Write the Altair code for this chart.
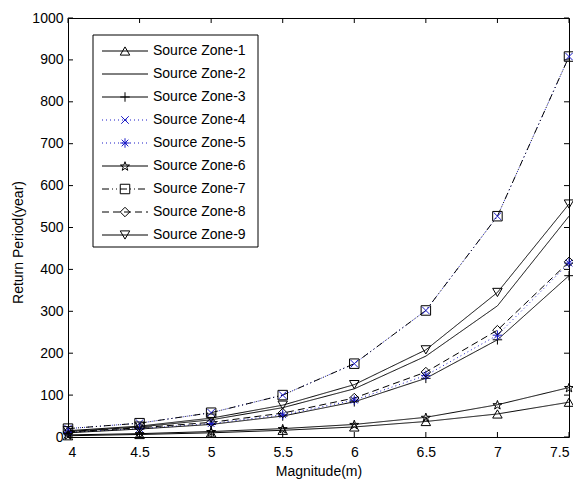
import math
import altair as alt
import pandas as pd

# ---- data ----
magnitude = [4, 4.5, 5, 5.5, 6, 6.5, 7, 7.5]
series_names = [f"Source Zone-{i}" for i in range(1, 10)]
zone1 = [3, 6, 10, 16, 24, 37, 55, 83]
zone2 = [13, 24, 41, 70, 115, 193, 313, 527]
zone3 = [10, 19, 30, 50, 84, 140, 232, 385]
zone4 = [20, 33, 58, 100, 175, 302, 527, 908]
zone5 = [11, 20, 32, 53, 88, 147, 243, 415]
zone6 = [5, 8, 13, 20, 30, 47, 77, 118]
zone7 = [20, 33, 58, 100, 175, 302, 527, 908]
zone8 = [12, 22, 35, 57, 93, 155, 255, 418]
zone9 = [15, 26, 45, 76, 125, 208, 345, 556]
all_values = [zone1, zone2, zone3, zone4, zone5, zone6, zone7, zone8, zone9]
x_ticks = [4, 4.5, 5, 5.5, 6, 6.5, 7, 7.5]
y_ticks = [0, 100, 200, 300, 400, 500, 600, 700, 800, 900, 1000]

rows = []
for name, vals in zip(series_names, all_values):
    for m, v in zip(magnitude, vals):
        rows.append({"series": name, "m": m, "v": v})
df = pd.DataFrame(rows)
legend_df = pd.DataFrame({"series": series_names, "idx": list(range(9))})
blue_series = ["Source Zone-4", "Source Zone-5"]

# ---- styles ----
W, H = 501, 419
BLUE = "#1c1cc8"
colors = ["black", "black", "black", BLUE, BLUE, "black", "black", "black", "black"]
dashes = [[1, 0], [1, 0], [1, 0], [1, 3], [1, 3], [1, 0], [7, 3, 1, 3, 1, 3], [7, 4], [1, 0]]

def pentagram():
    pts = []
    for k in range(10):
        ang = math.radians(-90 + 36 * k)
        r = 1.0 if k % 2 == 0 else 0.4
        pts.append((r * math.cos(ang), r * math.sin(ang) + 0.1))
    return "M" + "L".join(f"{x:.3f},{y:.3f}" for x, y in pts) + "Z"

plus = "M-1,0L1,0M0,-1L0,1"
xmark = "M-0.8,-0.8L0.8,0.8M-0.8,0.8L0.8,-0.8"
aster = "M-1,0L1,0M0,-1L0,1M-0.7,-0.7L0.7,0.7M-0.7,0.7L0.7,-0.7"
shapes = ["triangle-up", "M0,0", plus, xmark, aster, pentagram(), "square", "diamond", "triangle-down"]

color_sc = alt.Scale(domain=series_names, range=colors)
dash_sc = alt.Scale(domain=series_names, range=dashes)
shape_sc = alt.Scale(domain=series_names, range=shapes)

xs = alt.Scale(domain=[4, 7.5], nice=False)
ys = alt.Scale(domain=[0, 1000], nice=False)

FONT = "Liberation Sans"

base = alt.Chart(df)
x_enc = alt.X("m:Q", scale=xs, axis=alt.Axis(
    values=x_ticks, format="~g", title="Magnitude(m)", grid=False,
    ticks=False, tickSize=0, labelPadding=8, domain=False,
    titleY=34, titleBaseline="middle"))
y_enc = alt.Y("v:Q", scale=ys, axis=alt.Axis(
    values=y_ticks, format="d", title="Return Period(year)", grid=False,
    ticks=False, tickSize=0, labelPadding=5, domain=False,
    titleX=-50, titleY=224, titleBaseline="middle"))

def line_layer(chart):
    return chart.mark_line(strokeWidth=1).encode(
        x=x_enc, y=y_enc,
        color=alt.Color("series:N", scale=color_sc, legend=None),
        strokeDash=alt.StrokeDash("series:N", scale=dash_sc, legend=None),
        detail="series:N",
    )

lines_blue = line_layer(base.transform_filter(alt.FieldOneOfPredicate(field="series", oneOf=blue_series)))
lines_black = line_layer(base.transform_filter(~alt.FieldOneOfPredicate(field="series", oneOf=blue_series)))

points = base.transform_filter(alt.datum.series != "Source Zone-2").mark_point(
    filled=False, size=90, strokeWidth=1, opacity=1).encode(
    x=alt.X("m:Q", scale=xs),
    y=alt.Y("v:Q", scale=ys),
    color=alt.Color("series:N", scale=color_sc, legend=None),
    shape=alt.Shape("series:N", scale=shape_sc, legend=None),
)

xt = alt.Chart(pd.DataFrame({"t": x_ticks}))
yt = alt.Chart(pd.DataFrame({"t": y_ticks}))
tick_style = dict(color="black", strokeWidth=1)
xticks_b = xt.mark_rule(**tick_style).encode(x=alt.X("t:Q", scale=xs), y=alt.value(H), y2=alt.value(H - 5))
xticks_t = xt.mark_rule(**tick_style).encode(x=alt.X("t:Q", scale=xs), y=alt.value(0), y2=alt.value(5))
yticks_l = yt.mark_rule(**tick_style).encode(y=alt.Y("t:Q", scale=ys), x=alt.value(0), x2=alt.value(5))
yticks_r = yt.mark_rule(**tick_style).encode(y=alt.Y("t:Q", scale=ys), x=alt.value(W), x2=alt.value(W - 5))

main = alt.layer(lines_blue, lines_black, points, xticks_b, xticks_t, yticks_l, yticks_r)

# ---- legend ----
lys = alt.Scale(domain=[0, 8], range=[33, 217], nice=False)
lbase = alt.Chart(legend_df)
lbox = lbase.transform_filter(alt.datum.idx == 0).mark_rect(
    fill="white", stroke="black", strokeWidth=1).encode(
    x=alt.value(25), x2=alt.value(190), y=alt.value(17), y2=alt.value(229))
lrule = lbase.mark_rule(strokeWidth=1).encode(
    x=alt.value(34), x2=alt.value(80),
    y=alt.Y("idx:Q", scale=lys, axis=None),
    color=alt.Color("series:N", scale=color_sc, legend=None),
    strokeDash=alt.StrokeDash("series:N", scale=dash_sc, legend=None),
)
lpoint = lbase.transform_filter(alt.datum.series != "Source Zone-2").mark_point(
    filled=False, size=90, strokeWidth=1, opacity=1).encode(
    x=alt.value(57),
    y=alt.Y("idx:Q", scale=lys, axis=None),
    color=alt.Color("series:N", scale=color_sc, legend=None),
    shape=alt.Shape("series:N", scale=shape_sc, legend=None),
)
ltext = lbase.mark_text(align="left", baseline="middle", font=FONT, fontSize=14, color="black").encode(
    x=alt.value(85),
    y=alt.Y("idx:Q", scale=lys, axis=None),
    text="series:N",
)
legend = alt.layer(lbox, lrule, lpoint, ltext)

chart = alt.layer(main, legend).resolve_scale(y="independent").properties(
    width=W, height=H,
    autosize=alt.AutoSizeParams(type="none"),
    padding={"left": 60, "top": 10, "right": 4, "bottom": 44},
    background="white",
).configure_view(stroke="black", strokeWidth=1).configure_axis(
    labelFont=FONT, titleFont=FONT, labelFontSize=14, titleFontSize=14,
    labelColor="black", titleColor="black", titleFontWeight="normal",
)

chart.save("out.html", embed_options={"renderer": "svg", "actions": False})
